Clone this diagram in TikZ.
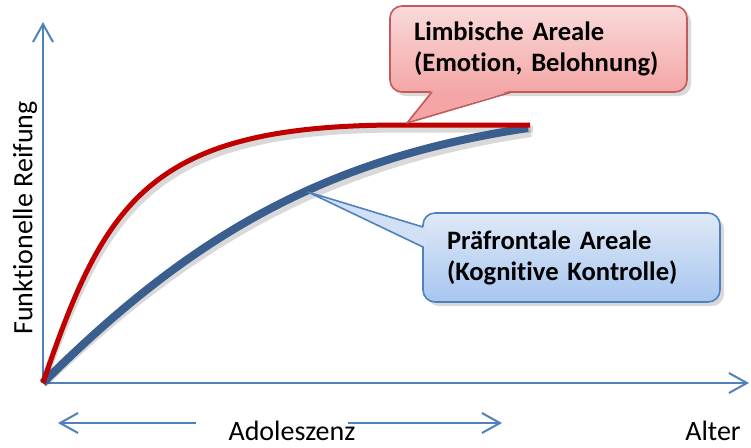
\documentclass[tikz,border=0pt]{standalone}
\usepackage{fontspec}
\setmainfont{Carlito}[Ligatures=NoCommon]
\usepackage{tikz}
\usetikzlibrary{positioning, arrows.meta, calc, shadows}

\definecolor{axisblue}{HTML}{4F81BD}
\definecolor{curveblue}{HTML}{3A5F8F}
\definecolor{curvered}{HTML}{C00000}
\definecolor{redline}{HTML}{C55A5A}
\definecolor{pinktop}{HTML}{FADADA}
\definecolor{pinkbot}{HTML}{F4A6A6}
\definecolor{bluetop}{HTML}{DFE9F7}
\definecolor{bluebot}{HTML}{A7C6EF}

\begin{document}
\begin{tikzpicture}[
    x=0.5pt, y=-0.5pt,
    axis/.style={-{Straight Barb[length=9pt, width=10pt]}, line width=1pt, axisblue},
    curve/.style={line width=#1, line join=round},
    curveshadow/.style={line width=#1, black, opacity=0.15, shift={(3,4)}},
    bubble/.style={rounded corners=6pt, line width=0.8pt, minimum width=148.5pt,
        inner xsep=12pt, text width=124.5pt, align=left,
        font=\bfseries\fontsize{13.3}{15.5}\selectfont,
        drop shadow={opacity=0.3, shadow xshift=2pt, shadow yshift=-2pt}},
    lbl/.style={font=\fontsize{14}{16}\selectfont}
]
    \useasboundingbox (0,0) rectangle (751,447);

    % axes
    \coordinate (O) at (43,383);
    \coordinate (ytop) at (43,22);
    \coordinate (xend) at (749,383);
    \draw[axis] (O) -- (ytop);
    \draw[axis] (O) -- (xend);
    \node[lbl, rotate=90] (ylbl) at (25,218) {Funktionelle Reifung};
    \node[lbl] (alter) at (713,431) {Alter};

    % adolescence span
    \node[lbl] (ado) at (292,431) {Adoleszenz};
    \coordinate (adoLs) at (196,423);
    \coordinate (adoL) at (58,423);
    \coordinate (adoRs) at (348,423);
    \coordinate (adoR) at (502,423);
    \draw[axis] (adoLs) -- (adoL);
    \draw[axis] (adoRs) -- (adoR);

    % curves
    \def\redcurve{(O) .. controls (105,200) and (150,125) .. (400,125) -- (530,125)}
    \def\bluecurve{(O) .. controls (193,233) and (328,158) .. (528,128)}
    \draw[curveshadow=5pt] \bluecurve;
    \draw[curveshadow=3.5pt] \redcurve;
    \draw[curve=4pt, curveblue] \bluecurve;
    \draw[curve=2.5pt, curvered] \redcurve;

    % limbic callout
    \coordinate (ltip) at (407,123);
    \coordinate (lb1) at (432,92);
    \coordinate (lb2) at (512,92);
    \fill[black, opacity=0.15, shift={(3,4)}] (lb1) -- (ltip) -- (lb2) -- cycle;
    \node[bubble, top color=pinktop, bottom color=pinkbot, draw=redline,
        minimum height=43pt] (limbic) at (538.5,49) {Limbische Areale\\(Emotion, Belohnung)};
    \fill[pinkbot] ($(lb1)+(0,-2)$) -- (ltip) -- ($(lb2)+(0,-2)$) -- cycle;
    \draw[redline, line width=0.8pt, line join=round] (lb1) -- (ltip) -- (lb2);

    % prefrontal callout
    \coordinate (ptip) at (308,192);
    \coordinate (pb1) at (423,227);
    \coordinate (pb2) at (423,247);
    \fill[black, opacity=0.15, shift={(3,4)}] (pb1) -- (ptip) -- (pb2) -- cycle;
    \node[bubble, top color=bluetop, bottom color=bluebot, draw=axisblue,
        minimum height=44.5pt] (prefr) at (571.5,257.5) {Präfrontale Areale\\(Kognitive Kontrolle)};
    \fill[bluetop!75!bluebot] ($(pb1)+(2,0)$) -- (ptip) -- ($(pb2)+(2,0)$) -- cycle;
    \draw[axisblue, line width=0.8pt, line join=round] (pb1) -- (ptip) -- (pb2);
\end{tikzpicture}
\end{document}
